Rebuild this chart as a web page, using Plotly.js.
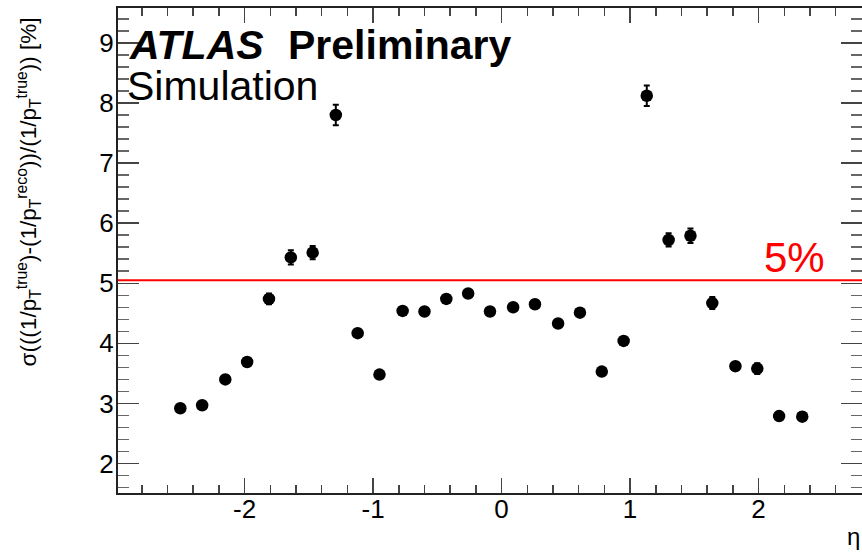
<!DOCTYPE html>
<html>
<head>
<meta charset="utf-8">
<script src="https://cdn.plot.ly/plotly-3.0.1.min.js"></script>
<style>html,body{margin:0;padding:0;background:#fff;}#chart{width:862px;height:552px;}</style>
</head>
<body>
<div id="chart"></div>
<script>
// eta bin centres
var eta = [-2.50,-2.33,-2.15,-1.98,-1.81,-1.64,-1.47,-1.29,-1.12,-0.95,-0.77,-0.60,-0.43,-0.26,-0.09,0.09,0.26,0.44,0.61,0.78,0.95,1.13,1.30,1.47,1.64,1.82,1.99,2.16,2.34];
// resolution in %
var resolution = [2.92,2.97,3.40,3.69,4.74,5.43,5.51,7.80,4.17,3.48,4.54,4.53,4.74,4.83,4.53,4.60,4.65,4.33,4.51,3.53,4.04,8.12,5.72,5.79,4.67,3.62,3.58,2.79,2.78];
var resolutionErr = [0.05,0.05,0.06,0.06,0.09,0.12,0.11,0.17,0.05,0.04,0.05,0.05,0.05,0.05,0.05,0.05,0.05,0.05,0.05,0.04,0.05,0.17,0.11,0.12,0.10,0.07,0.09,0.06,0.07];
var threshold = 5.05;
var thresholdLabel = "5%";
var xTickVals = [-2,-1,0,1,2];
var xTickText = ["-2","-1","0","1","2"];
var yTickVals = [2,3,4,5,6,7,8,9];
var yTickText = ["2","3","4","5","6","7","8","9"];

var font = "Liberation Sans, Arial, Helvetica, sans-serif";

var trace = {
  x: eta, y: resolution, type: 'scatter', mode: 'markers',
  marker: {color: '#000', size: 12.5},
  error_y: {type: 'data', array: resolutionErr, visible: true, color: '#000', thickness: 2, width: 3},
  hoverinfo: 'x+y', showlegend: false
};

var axisCommon = {
  showgrid: false, zeroline: false, showline: true, linecolor: '#222', linewidth: 2,
  mirror: 'ticks', ticks: 'inside', tickcolor: '#444', tickwidth: 1.5,
  tickfont: {family: font, size: 26, color: '#000'}
};

var layout = {
  width: 862, height: 552, autosize: false,
  margin: {l: 118, r: 0, t: 8, b: 59, pad: 0},
  paper_bgcolor: '#fff', plot_bgcolor: '#fff',
  font: {family: font, color: '#000'},
  xaxis: Object.assign({}, axisCommon, {
    range: [-2.985, 2.805], tickmode: 'array', tickvals: xTickVals, ticktext: xTickText, ticklen: 15,
    ticklabelstandoff: -8,
    minor: {dtick: 0.2, tick0: 0, ticklen: 8, ticks: 'inside', tickcolor: '#444', tickwidth: 1.5}
  }),
  yaxis: Object.assign({}, axisCommon, {
    range: [1.51, 9.58], tickmode: 'array', tickvals: yTickVals, ticktext: yTickText, ticklen: 21,
    ticklabelstandoff: -3,
    minor: {dtick: 0.2, tick0: 0, ticklen: 11, ticks: 'inside', tickcolor: '#666', tickwidth: 1.5}
  }),
  shapes: [{type: 'line', xref: 'paper', x0: 0, x1: 1, yref: 'y', y0: threshold, y1: threshold,
            line: {color: '#ff0000', width: 2}}],
  annotations: [
    {xref: 'paper', yref: 'paper', x: (28-118)/744, y: (493-16)/485, xanchor: 'center', yanchor: 'top', textangle: -90,
     showarrow: false, font: {family: font, size: 22.5, color: '#000'},
     text: 'σ(((1/p<sub>T</sub><sup>true</sup>)-(1/p<sub>T</sub><sup>reco</sup>))/(1/p<sub>T</sub><sup>true</sup>)) [%]'},
    {xref: 'paper', yref: 'paper', x: (862-118)/744, y: (493-552)/485, xanchor: 'right', yanchor: 'bottom',
     showarrow: false, font: {family: font, size: 24, color: '#000'}, text: 'η'},
    {xref: 'paper', yref: 'y', x: (794-118)/744, y: threshold, xanchor: 'center', yanchor: 'bottom', yshift: -3,
     showarrow: false, font: {family: font, size: 42, color: '#ff0000'}, text: thresholdLabel},
    {xref: 'paper', yref: 'paper', x: (127-118)/744, y: (493-20)/485, xanchor: 'left', yanchor: 'top',
     showarrow: false, font: {family: font, size: 41, color: '#000'}, text: '<b><i>ATLAS</i></b>'},
    {xref: 'paper', yref: 'paper', x: (286-118)/744, y: (493-20)/485, xanchor: 'left', yanchor: 'top',
     showarrow: false, font: {family: font, size: 41, color: '#000'}, text: '<b>Preliminary</b>'},
    {xref: 'paper', yref: 'paper', x: (125-118)/744, y: (493-61)/485, xanchor: 'left', yanchor: 'top',
     showarrow: false, font: {family: font, size: 41, color: '#000'}, text: 'Simulation'}
  ]
};

Plotly.newPlot('chart', [trace], layout, {displayModeBar: false, staticPlot: true});
</script>
</body>
</html>
